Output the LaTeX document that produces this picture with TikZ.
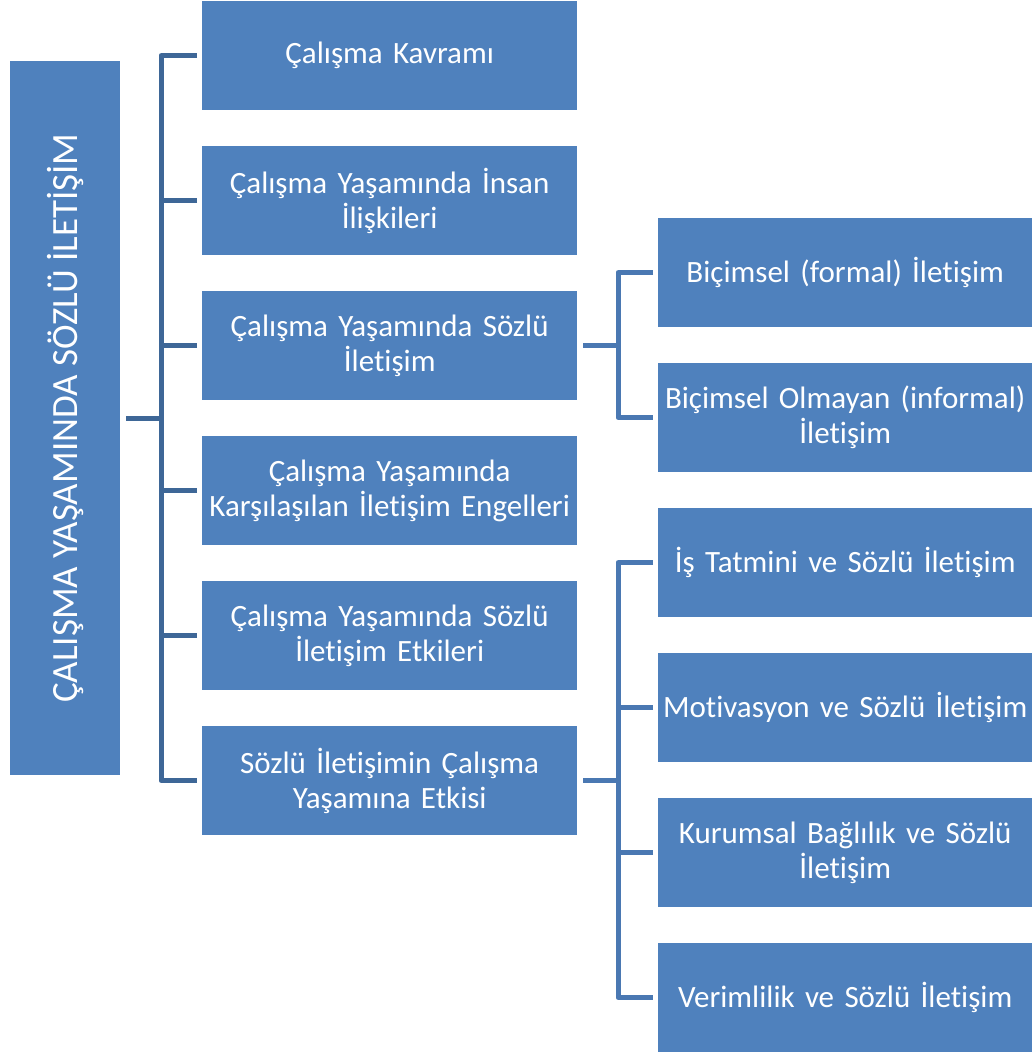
\documentclass[tikz,border=0pt]{standalone}
\usepackage{fontspec}
\setmainfont{Carlito}[Ligatures={NoCommon}]
\definecolor{boxblue}{HTML}{4F81BD}
\definecolor{lineL}{HTML}{3E6797}
\definecolor{lineR}{HTML}{4A78B2}
\begin{document}
\begin{tikzpicture}[x=1pt,y=-1pt,
  box/.style={fill=boxblue,draw=none,anchor=north west,minimum width=375pt,minimum height=109pt,
    text width=371pt,align=center,text=white,font=\fontsize{31}{35}\selectfont,inner sep=0pt},
  rbox/.style={box,minimum width=374pt,text width=372pt},
  connL/.style={draw=lineL,line width=5pt,line join=round},
  connR/.style={draw=lineR,line width=5pt,line join=round}]
\useasboundingbox (0,0) rectangle (1032,1055);
% root
\node[fill=boxblue,anchor=north west,minimum width=110pt,minimum height=714pt,inner sep=0pt] (root) at (10,61) {};
\node[rotate=90,text=white,font=\fontsize{37}{42}\selectfont] (roottxt) at (root.center) {ÇALIŞMA YAŞAMINDA SÖZLÜ İLETİŞİM};
% left column
\node[box] (l1) at (202,1) {Çalışma Kavramı};
\node[box] (l2) at (202,146) {Çalışma Yaşamında İnsan\\İlişkileri};
\node[box] (l3) at (202,291) {Çalışma Yaşamında Sözlü\\İletişim};
\node[box] (l4) at (202,436) {Çalışma Yaşamında\\Karşılaşılan İletişim Engelleri};
\node[box] (l5) at (202,581) {Çalışma Yaşamında Sözlü\\İletişim Etkileri};
\node[box] (l6) at (202,726) {Sözlü İletişimin Çalışma\\Yaşamına Etkisi};
% right column
\node[rbox] (r1) at (658,218) {Biçimsel (formal) İletişim};
\node[rbox] (r2) at (658,363) {Biçimsel Olmayan (informal)\\İletişim};
\node[rbox] (r3) at (658,508) {İş Tatmini ve Sözlü İletişim};
\node[rbox] (r4) at (658,653) {Motivasyon ve Sözlü İletişim};
\node[rbox] (r5) at (658,798) {Kurumsal Bağlılık ve Sözlü\\İletişim};
\node[rbox] (r6) at (658,943) {Verimlilik ve Sözlü İletişim};
% left connectors
\coordinate (tL) at (161,418);
\draw[connL] ([xshift=6pt]root.east) -- (root.east -| tL);
\draw[connL] ([xshift=-5pt]l1.west) -| (tL) |- ([xshift=-5pt]l6.west);
\foreach \n in {l2,l3,l4,l5} \draw[connL] ([xshift=-5pt]\n.west) -- (\n.west -| tL);
% right connectors group 1
\coordinate (tR) at (618,345);
\draw[connR] ([xshift=6pt]l3.east) -- (l3.east -| tR);
\draw[connR] ([xshift=-5pt]r1.west) -| (tR) |- ([xshift=-5pt]r2.west);
% right connectors group 2
\draw[connR] ([xshift=6pt]l6.east) -- (l6.east -| tR);
\draw[connR] ([xshift=-5pt]r3.west) -| (tR |- r3.west) |- ([xshift=-5pt]r6.west);
\foreach \n in {r4,r5} \draw[connR] ([xshift=-5pt]\n.west) -- (\n.west -| tR);
\end{tikzpicture}
\end{document}
